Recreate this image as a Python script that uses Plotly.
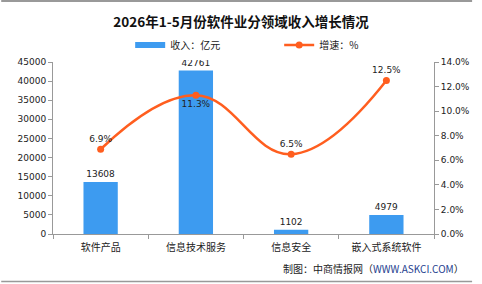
import plotly.graph_objects as go

categories = ["软件产品", "信息技术服务", "信息安全", "嵌入式系统软件"]
revenue = [13608, 42761, 1102, 4979]
growth = [6.9, 11.3, 6.5, 12.5]
growth_pos = ["top center", "bottom center", "top center", "top center"]

FONT = "Noto Sans CJK SC"
NUM = "DejaVu Sans"
BLUE = "#3D9BF0"
ORANGE = "#FF5E1F"

fig = go.Figure()
fig.add_trace(go.Bar(
    x=categories, y=revenue, name="收入：亿元", marker_color=BLUE,
    marker_line_width=0, width=0.36, showlegend=False,
    text=[str(v) for v in revenue], textposition="outside",
    textfont=dict(family=NUM, size=9, color="#222"), cliponaxis=False,
))
# legend-only entry drawn as a wide block, like the reference legend key
fig.add_trace(go.Scatter(
    x=[None], y=[None], name="收入：亿元", mode="lines",
    line=dict(color=BLUE, width=6),
))
fig.add_trace(go.Scatter(
    x=categories, y=growth, name="增速：%", yaxis="y2", mode="lines+markers+text",
    line=dict(color=ORANGE, width=2.5, shape="spline", smoothing=1.2),
    marker=dict(size=7, color=ORANGE),
    text=[f"{v:.1f}%" for v in growth], textposition=growth_pos,
    textfont=dict(family=NUM, size=9, color="#222"), cliponaxis=False,
))

fig.update_layout(
    width=482, height=284,
    margin=dict(l=53, r=39, t=62, b=50),
    paper_bgcolor="white", plot_bgcolor="white",
    font=dict(family=FONT, size=10, color="#222"),
    title=dict(text="<b>2026年1-5月份软件业分领域收入增长情况</b>", x=0.5, xanchor="center",
               y=1 - 22 / 284, yanchor="middle", font=dict(family=FONT, size=13.5, color="#111")),
    showlegend=True,
    legend=dict(orientation="h", x=(137 - 53 - 5) / 390, xanchor="left", y=1 + 17 / 172,
                yanchor="middle", font=dict(family=FONT, size=10, color="#222"),
                entrywidth=104, itemwidth=30, tracegroupgap=0),
    bargap=0.6,
    xaxis=dict(type="category", showline=True, linecolor="#999", linewidth=1,
               ticks="outside", tickson="boundaries", ticklen=4, tickcolor="#999",
               ticklabelstandoff=4,
               tickfont=dict(family=FONT, size=10, color="#222"), showgrid=False),
    yaxis=dict(range=[0, 45000], dtick=5000, showline=True, linecolor="#999", linewidth=1,
               ticks="outside", ticklen=4, tickcolor="#999", showgrid=False, zeroline=False,
               tickfont=dict(family=NUM, size=9, color="#222"), tickformat="d"),
    yaxis2=dict(range=[0, 14], dtick=2, overlaying="y", side="right", showline=True,
                linecolor="#999", linewidth=1, ticks="outside", ticklen=4, tickcolor="#999",
                showgrid=False, zeroline=False, ticksuffix="%", tickformat=".1f",
                tickfont=dict(family=NUM, size=9, color="#222")),
    shapes=[
        dict(type="line", xref="paper", yref="paper", x0=-53 / 390, x1=1 + 39 / 390,
             y0=1 + 61 / 172, y1=1 + 61 / 172, line=dict(color="#999", width=2)),
        dict(type="line", xref="paper", yref="paper", x0=-53 / 390, x1=1 + 39 / 390,
             y0=-47.5 / 172, y1=-47.5 / 172, line=dict(color="#999", width=1.5)),
    ],
    annotations=[
        dict(text="制图：中商情报网（<span style='color:#1F3F8F'>WWW.ASKCI.COM</span>）",
             xref="paper", yref="paper", x=1 + 33 / 390, xanchor="right",
             y=-34 / 172, yanchor="middle", showarrow=False,
             font=dict(family=FONT, size=10, color="#222")),
    ],
)

fig.write_html("out.html")
